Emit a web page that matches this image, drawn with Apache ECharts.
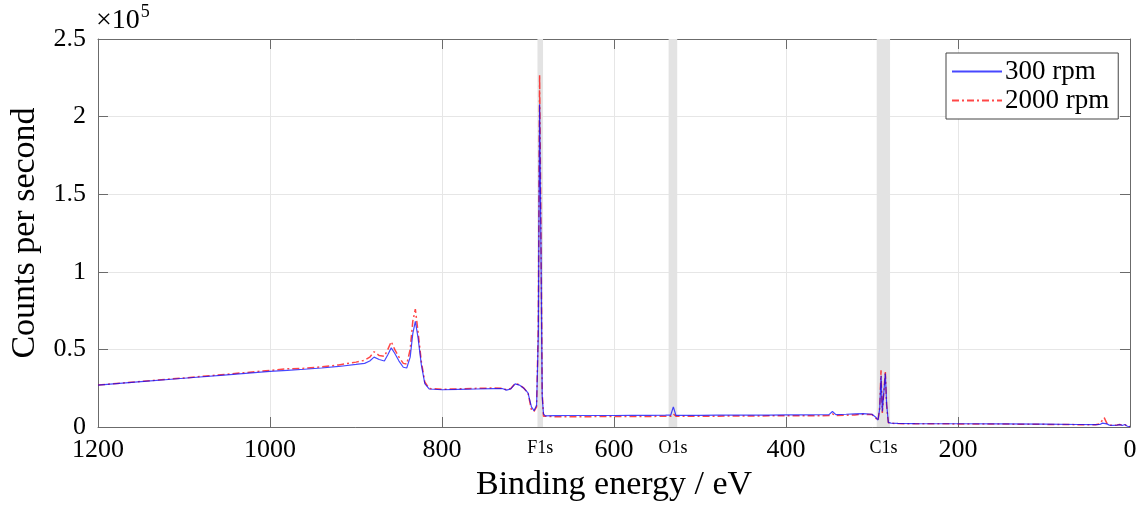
<!DOCTYPE html>
<html>
<head>
<meta charset="utf-8">
<script src="https://cdn.jsdelivr.net/npm/echarts@6/dist/echarts.min.js"></script>
<style>
html,body{margin:0;padding:0;background:#fff;}
#chart{width:1148px;height:508px;}
</style>
</head>
<body>
<div id="chart"></div>
<script>
// Binding energy (eV)
const energies = [1200,1150,1100,1050,1000,980,960,940,920,900,890,884,879,873,867,863,859,855,850,845,841,837,834,831,828,824,820,815,800,780,760,740,730,725,720,715,710,705,700,696,693,690,688,686.5,685,683.5,682,680,670,650,620,600,580,560,540,534,531,528,520,500,480,460,440,420,400,380,360,350,346,342,330,320,310,300,296,293,291,289.5,288,286.5,284.5,283,281,278,270,250,200,150,100,60,40,35,32,30,27,24,20,15,12,9,6,3,0];
// Counts per second, 300 rpm
const counts300 = [27000,29200,31400,33600,35800,36500,37200,38000,39000,40300,41000,42500,45000,43500,42500,46500,51000,47500,42500,38500,38000,45000,60000,68000,58000,40000,28000,24500,24000,24300,24500,24700,24800,23800,24600,27800,27000,25000,22000,13000,10500,14000,60000,208000,120000,20000,8500,7200,7300,7400,7400,7400,7500,7500,7600,7700,13000,7500,7500,7500,7600,7600,7700,7700,7800,7800,7900,8000,10000,8000,8200,8400,8600,8200,6500,4500,12000,33000,10000,9000,34500,15000,3000,2500,2300,2200,2100,2000,1800,1600,1500,1600,2500,3000,2000,1200,1000,1200,1500,1000,1600,500,300];
// Counts per second, 2000 rpm
const counts2000 = [27000,29400,31600,34000,36500,37500,37800,38800,40000,41800,43000,45000,48500,46000,45500,50000,55000,50000,45000,41000,40500,50000,68000,76000,62000,42000,29000,24800,24300,24600,24900,25100,25000,24000,24800,28000,27200,25200,22000,11000,10000,13000,65000,227000,130000,22000,7000,6500,6600,6600,6700,6700,6800,6800,6900,7000,8500,6900,6900,7000,7000,7100,7100,7200,7200,7300,7300,7400,8500,7400,7600,7800,8200,8000,6000,4000,13000,36500,9000,9500,36000,14000,2800,2400,2200,2100,2000,1900,1700,1500,1400,2000,4500,6000,2500,1200,1000,1300,1600,1100,1500,400,300];
const xTickLabels = ['0','200','400','600','800','1000','1200'];
const yTickLabels = ['0','0.5','1','1.5','2','2.5'];
const bandNames = ['F1s','O1s','C1s'];
const bandStart = [689,536.5,294.5];
const bandEnd = [682.5,526.5,279];

const FONT = 'Liberation Serif';
const chart = echarts.init(document.getElementById('chart'), null, {renderer:'canvas'});
const axisColor = '#6b6b6b';
const gridColor = '#e6e6e6';

const bands = bandNames.map((n,i)=>[
  {xAxis: bandStart[i], name: n},
  {xAxis: bandEnd[i]}
]);

chart.setOption({
  animation:false,
  backgroundColor:'#fff',
  grid:{left:95,right:18,top:39,bottom:81,containLabel:false},
  graphic:[{
    type:'text', left:96, top:3,
    style:{
      text:'{a|×10}{b|5}',
      rich:{
        a:{fontFamily:FONT,fontSize:28,fill:'#000',verticalAlign:'bottom'},
        b:{fontFamily:FONT,fontSize:18,fill:'#000',verticalAlign:'top',padding:[0,0,14,1]}
      }
    }
  }],
  legend:{
    data:['300 rpm','2000 rpm'],
    orient:'vertical',
    left:946, top:53,
    backgroundColor:'#fff',
    borderColor:'#444',
    borderWidth:1,
    borderRadius:0,
    padding:[5,9,5,5],
    itemWidth:50,
    itemHeight:14,
    itemGap:2,
    itemStyle:{opacity:0},
    textStyle:{fontFamily:FONT,fontSize:27,color:'#000',padding:[0,0,0,-2]}
  },
  xAxis:[{
    type:'value', min:0, max:1200, interval:200, inverse:true,
    name:'Binding energy / eV', nameLocation:'middle', nameGap:38,
    nameTextStyle:{fontFamily:FONT,fontSize:34,color:'#000'},
    axisLine:{show:true,onZero:false,lineStyle:{color:axisColor,width:1}},
    axisTick:{show:true,inside:true,length:10,lineStyle:{color:axisColor}},
    axisLabel:{fontFamily:FONT,fontSize:26,color:'#000',margin:10,
      formatter:(v)=>xTickLabels[Math.round(v/200)]},
    splitLine:{show:true,lineStyle:{color:gridColor,width:1}}
  },{
    type:'value', min:0, max:1200, interval:200, inverse:true, position:'top',
    axisLine:{show:true,onZero:false,lineStyle:{color:axisColor,width:1}},
    axisTick:{show:true,inside:true,length:10,lineStyle:{color:axisColor}},
    axisLabel:{show:false}, splitLine:{show:false}
  }],
  yAxis:[{
    type:'value', min:0, max:250000, interval:50000,
    name:'Counts per second', nameLocation:'middle', nameGap:56,
    nameTextStyle:{fontFamily:FONT,fontSize:34,color:'#000'},
    axisLine:{show:true,onZero:false,lineStyle:{color:axisColor,width:1}},
    axisTick:{show:true,inside:true,length:10,lineStyle:{color:axisColor}},
    axisLabel:{fontFamily:FONT,fontSize:26,color:'#000',margin:12,
      formatter:(v)=>yTickLabels[Math.round(v/50000)]},
    splitLine:{show:true,lineStyle:{color:gridColor,width:1}}
  },{
    type:'value', min:0, max:250000, interval:50000, position:'right',
    axisLine:{show:true,onZero:false,lineStyle:{color:axisColor,width:1}},
    axisTick:{show:true,inside:true,length:10,lineStyle:{color:axisColor}},
    axisLabel:{show:false}, splitLine:{show:false}
  }],
  series:[{
    name:'bands', type:'line', data:[], z:1, silent:true,
    markArea:{
      silent:true,
      itemStyle:{color:'#e3e3e3'},
      label:{show:true,position:'bottom',distance:12,fontFamily:FONT,fontSize:18,color:'#000'},
      data:bands
    }
  },{
    name:'300 rpm', type:'line', z:4,
    data:energies.map((e,i)=>[e,counts300[i]]),
    showSymbol:false, symbol:'none',
    lineStyle:{color:'rgba(0,0,255,0.72)',width:1.2},
    itemStyle:{color:'rgba(0,0,255,0.72)'}
  },{
    name:'2000 rpm', type:'line', z:3,
    data:energies.map((e,i)=>[e,counts2000[i]]),
    showSymbol:false, symbol:'none',
    lineStyle:{color:'rgba(255,0,0,0.72)',width:1.5,type:[7,3,2,3]},
    itemStyle:{color:'rgba(255,0,0,0.72)'}
  }]
});
</script>
</body>
</html>
